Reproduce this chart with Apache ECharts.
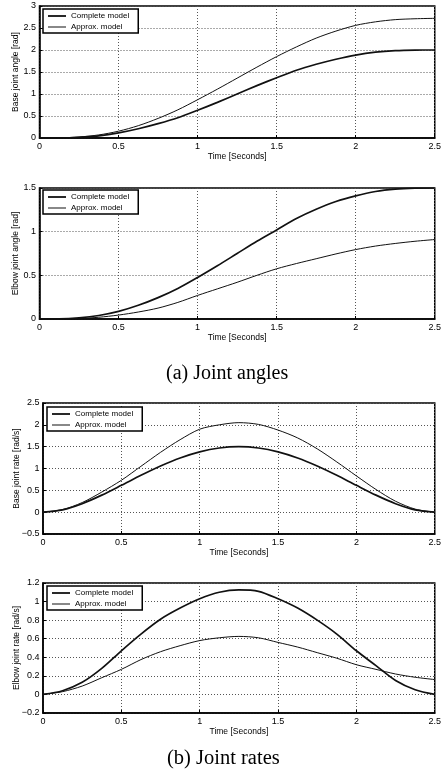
<!DOCTYPE html>
<html>
<head>
<meta charset="utf-8">
<script src="https://cdn.jsdelivr.net/npm/echarts@6/dist/echarts.min.js"></script>
<style>
  html, body { margin: 0; padding: 0; background: #fff; }
  #chart { width: 444px; height: 778px; }
</style>
</head>
<body>
<div id="chart"></div>
<script>
// time samples [s]
const t = [0, 0.125, 0.25, 0.375, 0.5, 0.625, 0.75, 0.875, 1, 1.125, 1.25,
           1.375, 1.5, 1.625, 1.75, 1.875, 2, 2.125, 2.25, 2.375, 2.5];

// (a) joint angles [rad]
const baseAngleComplete = [0, 0.002, 0.017, 0.05, 0.116, 0.21, 0.326, 0.46, 0.63, 0.81, 1.0,
                           1.19, 1.37, 1.54, 1.675, 1.79, 1.885, 1.95, 1.985, 1.998, 2.0];
const baseAngleApprox = [0, 0.003, 0.023, 0.07, 0.155, 0.28, 0.445, 0.64, 0.87, 1.11, 1.36,
                         1.61, 1.85, 2.07, 2.27, 2.43, 2.56, 2.64, 2.69, 2.71, 2.72];
const elbowAngleComplete = [0, 0.001, 0.013, 0.04, 0.087, 0.157, 0.245, 0.35, 0.476, 0.61, 0.75,
                            0.89, 1.02, 1.15, 1.256, 1.345, 1.41, 1.46, 1.487, 1.498, 1.5];
const elbowAngleApprox = [0, 0.001, 0.006, 0.02, 0.045, 0.08, 0.125, 0.19, 0.27, 0.345, 0.42,
                          0.5, 0.575, 0.635, 0.69, 0.745, 0.795, 0.835, 0.865, 0.89, 0.91];

// (b) joint rates [rad/s]
const baseRateComplete = [0, 0.054, 0.194, 0.39, 0.614, 0.844, 1.058, 1.242, 1.382, 1.47, 1.5,
                          1.47, 1.382, 1.242, 1.058, 0.844, 0.614, 0.39, 0.194, 0.054, 0];
const baseRateApprox = [0, 0.06, 0.22, 0.46, 0.73, 1.05, 1.37, 1.66, 1.9, 2.0, 2.05,
                        2.01, 1.88, 1.7, 1.45, 1.15, 0.83, 0.52, 0.25, 0.07, 0];
const elbowRateComplete = [0, 0.04, 0.13, 0.28, 0.47, 0.65, 0.81, 0.93, 1.03, 1.1, 1.125,
                           1.11, 1.03, 0.93, 0.8, 0.65, 0.47, 0.31, 0.15, 0.05, 0];
const elbowRateApprox = [0, 0.03, 0.09, 0.18, 0.27, 0.375, 0.46, 0.525, 0.58, 0.61, 0.625,
                         0.61, 0.56, 0.51, 0.45, 0.39, 0.32, 0.27, 0.22, 0.185, 0.16];

const names = ['Complete model', 'Approx. model'];
const yNames = ['Base joint angle [rad]', 'Elbow joint angle [rad]',
                'Base joint rate [rad/s]', 'Elbow joint rate [rad/s]'];
const yMin = [0, 0, -0.5, -0.2];
const yMax = [3, 1.5, 2.5, 1.2];
const yStep = [0.5, 0.5, 0.5, 0.2];
const panels = [
  [baseAngleComplete, baseAngleApprox],
  [elbowAngleComplete, elbowAngleApprox],
  [baseRateComplete, baseRateApprox],
  [elbowRateComplete, elbowRateApprox]
];

const font = 'Liberation Sans, Arial, Helvetica, sans-serif';
const serif = 'Liberation Serif, Times New Roman, serif';
const fmt = v => String(parseFloat(v.toFixed(2))).replace('-', '\u2212');

// legend line icons: the leading moveTo's only fix the 18x8 box, the bar is the line
const thickIcon = 'path://M0,0 M18,8 M0,3.1 L18,3.1 L18,4.9 L0,4.9 Z';
const thinIcon = 'path://M0,0 M18,8 M0,3.5 L18,3.5 L18,4.5 L0,4.5 Z';

// layout of the four panels
const grids = [
  { left: 39.5, top: 6, right: 8, height: 132 },
  { left: 39.5, top: 188, right: 8, height: 131 },
  { left: 43, top: 403, right: 8, height: 131 },
  { left: 43, top: 583, right: 8, height: 130 }
];
const legendPos = [
  { left: 43, top: 9 }, { left: 43, top: 190 },
  { left: 47, top: 407 }, { left: 47, top: 586 }
];
const yNameGap = [19, 19, 22, 22];

const option = {
  backgroundColor: '#fff',
  animation: false,
  title: [
    { text: '(a) Joint angles', left: 161, top: 359,
      textStyle: { fontFamily: serif, fontSize: 20, fontWeight: 'normal', color: '#000' } },
    { text: '(b) Joint rates', left: 162, top: 743,
      textStyle: { fontFamily: serif, fontSize: 20.5, fontWeight: 'normal', color: '#000' } }
  ],
  grid: grids.map(g => Object.assign({ show: true, borderColor: '#000', borderWidth: 1.5, backgroundColor: '#fff' }, g)),
  legend: legendPos.map(p => ({
    left: p.left, top: p.top,
    orient: 'vertical',
    data: [{ name: names[0], icon: thickIcon }, { name: names[1], icon: thinIcon }],
    backgroundColor: '#fff',
    borderColor: '#000',
    borderWidth: 1.5,
    borderRadius: 0,
    padding: [3, 9, 2, 5],
    itemGap: 3,
    itemWidth: 18,
    itemHeight: 8,
    textStyle: { fontFamily: font, fontSize: 8, color: '#000' }
  })),
  xAxis: grids.map((g, i) => ({
    type: 'value', gridIndex: i,
    min: 0, max: 2.5, interval: 0.5,
    name: 'Time [Seconds]', nameLocation: 'middle', nameGap: 14,
    nameMoveOverlap: false,
    nameTextStyle: { fontFamily: font, fontSize: 8.5, color: '#000' },
    axisLine: { show: true, onZero: false, lineStyle: { color: '#000', width: 1.5 } },
    axisTick: { show: true, inside: true, length: 3, lineStyle: { color: '#000' } },
    axisLabel: { fontFamily: font, fontSize: 9, color: '#000', margin: 4, formatter: fmt },
    splitLine: { show: true, lineStyle: { color: '#555', width: 1, type: [1, 2] } }
  })),
  yAxis: grids.map((g, i) => ({
    type: 'value', gridIndex: i,
    min: yMin[i], max: yMax[i], interval: yStep[i],
    name: yNames[i], nameLocation: 'middle', nameGap: yNameGap[i],
    nameMoveOverlap: false,
    nameTextStyle: { fontFamily: font, fontSize: 8.5, color: '#000' },
    axisLine: { show: true, lineStyle: { color: '#000', width: 1.5 } },
    axisTick: { show: true, inside: true, length: 3, lineStyle: { color: '#000' } },
    axisLabel: { fontFamily: font, fontSize: 9, color: '#000', margin: 3.5, formatter: fmt },
    splitLine: { show: true, lineStyle: { color: '#555', width: 1, type: [1, 2] } }
  })),
  series: []
};

panels.forEach((pair, i) => {
  pair.forEach((vals, k) => {
    option.series.push({
      type: 'line',
      name: names[k],
      xAxisIndex: i, yAxisIndex: i,
      data: t.map((x, j) => [x, vals[j]]),
      smooth: 0.3,
      symbol: 'none',
      lineStyle: { color: '#111', width: k === 0 ? 1.7 : 1 },
      itemStyle: { color: '#111' }
    });
  });
});

const myChart = echarts.init(document.getElementById('chart'), null, { renderer: 'canvas' });
myChart.setOption(option);
</script>
</body>
</html>
